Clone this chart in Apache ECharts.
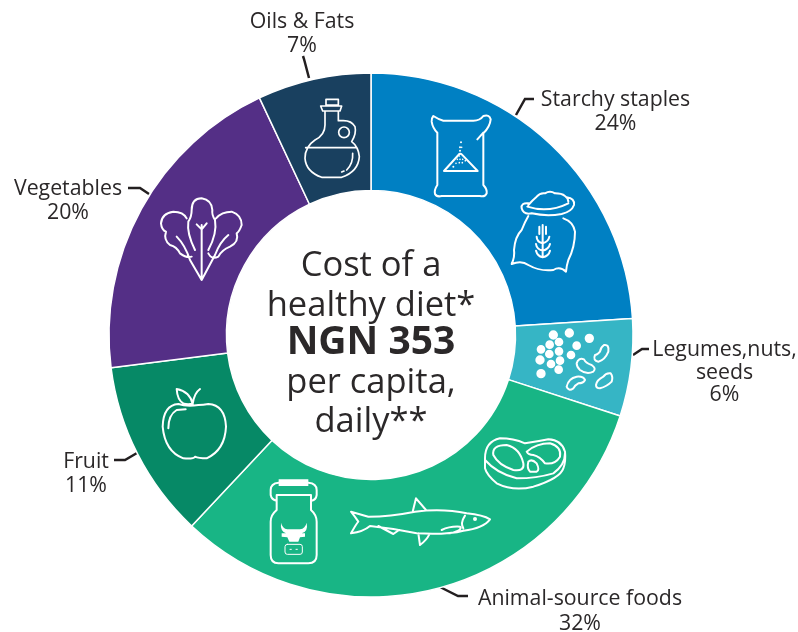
<!DOCTYPE html>
<html><head><meta charset="utf-8">
<style>html,body{margin:0;padding:0;background:#fff}#c{width:798px;height:632px}</style>
<script src="https://cdn.jsdelivr.net/npm/echarts@6/dist/echarts.min.js"></script>
</head><body><div id="c"></div>
<script>
const categories = ['Starchy staples','Legumes,nuts,\nseeds','Animal-source foods','Fruit','Vegetables','Oils & Fats'];
const shares = [24,6,32,11,20,7];
const colours = ['#0080C3','#36B5C5','#18B585','#068966','#542F86','#19405F'];
const centreLines = ['Cost of a','healthy diet*','NGN 353','per capita,','daily**'];

const INK = '#2b2829';
// label centre and leader path for each category, in page pixels
const labelPlace = [
  {x:615.5,y:112,line:[[516,115],[525,99],[534,99]]},
  {x:724.5,y:372.5,lh:22.5,line:[[633,355],[642,349],[649,349]]},
  {x:580,y:611.5,line:[[440,587],[458,596],[468,596]]},
  {x:86,y:474,line:[[137,453],[125,460],[114,460]]},
  {x:68,y:201,line:[[149,194],[140,188],[128,188]]},
  {x:302,y:34,line:[[309,78],[304,59],[303,56]]}
];
const centreY = [266,306,343,383,422];
const centreSize = [34.5,34.5,39,34.5,34.5];

let iconCount = 0;
function iconPath(d,pos,fill,lw){
  const name = 'dietIcon'+(iconCount++);
  echarts.graphic.registerShape(name, echarts.graphic.extendPath(d));
  return {type:name,z:10,silent:true,x:pos[0],y:pos[1],scaleX:1/3,scaleY:1/3,
    style:{fill:fill?'#fff':'none',stroke:fill?null:'#fff',lineWidth:lw||6,lineJoin:'round',lineCap:'round'}};
}
function dots(list){
  return list.map(c=>`M${c[0]-c[2]} ${c[1]}a${c[2]} ${c[2]} 0 1 0 ${2*c[2]} 0a${c[2]} ${c[2]} 0 1 0 ${-2*c[2]} 0Z`).join('');
}
const Z1=[400,90], Z2=[250,400], Z3=[140,90];
const icons = [
  // flour sack
  iconPath('M100 78Q94 85 95 95Q98 115 112 128L112 285Q102 300 105 312Q110 322 125 318L240 318Q255 322 260 310Q262 298 250 285L250 130Q270 110 272 88Q268 72 250 78Q240 92 220 92L130 92Q115 88 100 78Z M250 128L232 148 M132 243L178 192Q182 190 186 194L233 243Z',Z1),
  iconPath(dots([[183,157,3],[180,172,3],[185,172,2.5],[180,182,3],[178,198,2.5],[172,208,2.5],[180,208,2.5],[188,208,2.5],[196,212,2.5],[168,220,2.5],[178,218,2.5],[187,218,2.5],[160,230,3]]),Z1,true),
  // grain sack
  iconPath('M385 378Q375 395 365 420Q345 440 342 480Q345 500 335 522Q365 510 385 525Q420 545 460 540Q480 528 498 545Q500 525 505 510Q525 470 525 425Q520 395 490 385 M385 345Q398 330 410 320Q420 308 435 310Q450 300 465 310Q485 310 495 318Q505 325 505 335 M385 340Q362 338 365 355Q370 375 395 370Q440 380 485 372Q515 365 522 345Q525 325 500 322 M382 350Q445 370 505 340 M428 405L428 500 M418 410L418 432 M438 410L438 432 M410 440Q410 455 428 460Q446 455 448 440 M408 462Q410 478 428 482Q446 478 450 462 M408 482Q412 498 428 502Q446 498 450 482',Z1),
  // pulses
  iconPath(dots([[460,735,14],[508,729,14],[568,745,14],[530,767,13],[477,756,13],[449,764,13],[423,778,13],[477,784,13],[448,792,13],[513,795,13],[420,810,14],[480,812,13],[453,822,13],[476,839,13],[423,851,14]]),Z1,true),
  iconPath('M612 765Q628 762 625 785Q615 810 595 815Q578 812 585 795Q592 795 600 785Q602 772 612 765Z M530 820Q535 802 552 808Q558 820 575 825Q590 835 580 845Q560 855 540 840Q530 832 530 820Z M500 890Q505 865 530 860Q550 858 555 870Q550 880 535 880Q525 885 520 895Q505 905 500 890Z M588 885Q590 870 610 860Q618 848 632 850Q640 860 635 875Q620 890 600 895Q588 895 588 885Z',Z1),
  // meat
  iconPath('M705 175Q705 125 750 115Q790 115 825 130Q860 125 895 118Q935 120 945 155Q948 185 940 205Q930 235 850 260Q790 275 740 250Q710 225 705 205Z M705 180Q740 220 800 235Q860 235 910 220Q945 195 945 160 M730 165Q725 135 770 135Q810 145 820 190Q825 215 790 210Q745 195 730 165Z M830 155Q860 130 900 130Q935 140 930 170Q915 195 885 190Q870 170 850 165Q835 165 830 155Z M835 185Q845 175 860 190Q870 210 860 215L840 215Q830 205 835 185Z',Z2),
  // fish
  iconPath('M303 335L355 350Q420 350 495 335Q580 325 650 340Q700 345 720 358Q700 385 640 392Q590 405 500 400Q430 385 360 378Q340 395 303 400Q320 370 325 365Q315 350 303 335Z M488 335L498 295L528 330 M505 400L510 435Q530 420 538 403 M385 378L430 402L447 390 M575 390Q600 378 630 380Q640 390 600 400 M645 347Q630 370 640 385',Z2),
  iconPath(dots([[675,357,6]]),Z2,true),
  // milk bottle
  iconPath('M86 248Q62 250 62 270L62 285Q65 300 80 302 M175 248Q200 250 200 270L200 285Q198 300 185 302 M80 285L183 285L183 330Q200 345 200 365L200 465Q200 490 175 490L85 490Q62 490 62 465L62 365Q62 345 80 330Z',Z2),
  iconPath('M86 238L175 238L175 258L86 258Z M93 368Q97 385 112 388L150 388Q166 385 170 368Q175 395 155 400L165 400L165 410L150 412L145 425L118 425L112 412L95 410L95 400L108 400Q90 393 93 368Z',Z2,true),
  iconPath('M112 433L150 433Q157 433 157 440L157 456Q157 463 150 463L112 463Q105 463 105 456L105 440Q105 433 112 433Z M120 448L124 448 M138 448L142 448',Z2,false,3),
  // oil bottle
  iconPath('M558 28L595 28L595 45L558 45Z M542 48L605 48L600 63L548 63Z M555 65L555 105Q555 135 525 150Q495 170 495 205Q498 245 545 262L605 262Q655 245 658 200Q655 170 635 155Q650 130 645 110Q635 92 610 92L595 92L595 65 M596 127a16 16 0 1 0 32 0a16 16 0 1 0 -32 0Z M497 173L650 173 M638 190Q640 220 620 240 M612 243L605 246',Z3,false,5),
  // leafy vegetable
  iconPath('M185 405L185 570 M170 403L185 418L200 400 M185 570L150 510Q135 465 110 440 M185 570L225 495Q240 455 265 435 M165 480Q140 430 145 395Q155 380 155 360Q155 325 185 325Q215 330 217 360Q215 375 225 390Q232 430 205 480 M140 385Q130 365 100 365Q65 370 63 400Q65 420 78 425Q70 450 90 465Q110 470 120 490Q140 505 155 500 M228 385Q245 365 275 365Q305 375 305 405Q298 425 290 430Q298 455 270 470Q245 480 235 500Q215 510 205 490',Z3),
  // apple
  iconPath('M175 945Q140 950 115 942Q70 945 68 1010Q75 1085 130 1105Q160 1108 165 1100Q175 1105 200 1105Q255 1080 258 1010Q255 945 205 942Q190 945 175 945Z M158 942Q150 905 110 897Q112 930 130 940Q145 945 158 940 M158 942Q162 910 180 897 M85 1015Q85 975 110 960L137 958',Z3)
];

const centreText = centreLines.map((t,i)=>({
  type:'text',z:10,silent:true,x:371,y:centreY[i],
  style:{text:t,fill:INK,font:(i===2?'700 ':'400 ')+centreSize[i]+'px "Open Sans"',textAlign:'center',textVerticalAlign:'middle'}
}));

const chart = echarts.init(document.getElementById('c'),null,{renderer:'canvas'});
chart.setOption({
  animation:false,
  backgroundColor:'#fff',
  series:[{
    type:'pie',
    center:[371,335],
    radius:[144.5,262],
    startAngle:90,
    clockwise:true,
    avoidLabelOverlap:false,
    silent:true,
    data:categories.map((n,i)=>({name:n,value:shares[i],itemStyle:{color:colours[i]},
      label:{lineHeight:labelPlace[i].lh||24.5}})),
    itemStyle:{borderColor:'#fff',borderWidth:1.5},
    label:{show:true,position:'outside',formatter:'{b}\n{c}%',color:INK,fontFamily:'Open Sans',fontSize:21.3,align:'center'},
    labelLine:{show:true,smooth:false,lineStyle:{color:'#231f20',width:2.5}},
    labelLayout:function(p){
      const s=labelPlace[p.dataIndex];
      return {x:s.x,y:s.y,align:'center',verticalAlign:'middle',labelLinePoints:s.line};
    }
  }],
  graphic:{elements:icons.concat(centreText)}
});
</script></body></html>
